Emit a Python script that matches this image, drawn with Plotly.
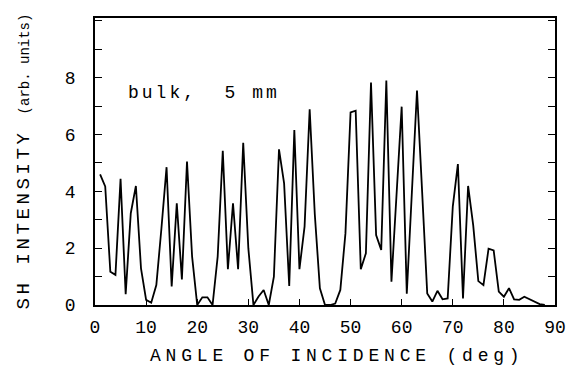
import plotly.graph_objects as go

angles = [1, 2, 3, 4, 5, 6, 7, 8, 9, 10, 11, 12, 13, 14, 15, 16, 17, 18, 19, 20,
          21, 22, 23, 24, 25, 26, 27, 28, 29, 30, 31, 32, 33, 34, 35, 36, 37, 38, 39, 40,
          41, 42, 43, 44, 45, 46, 47, 48, 49, 50, 51, 52, 53, 54, 55, 56, 57, 58, 59, 60,
          61, 62, 63, 64, 65, 66, 67, 68, 69, 70, 71, 72, 73, 74, 75, 76, 77, 78, 79, 80,
          81, 82, 83, 84, 85, 86, 87, 88]

sh_intensity = [4.60, 4.17, 1.17, 1.06, 4.44, 0.38, 3.23, 4.19, 1.29, 0.18,
                0.08, 0.70, 2.70, 4.85, 0.65, 3.58, 0.90, 5.05, 1.70, 0.00,
                0.27, 0.27, 0.00, 1.70, 5.43, 1.26, 3.58, 1.26, 5.71, 2.00,
                0.00, 0.30, 0.53, 0.00, 1.00, 5.48, 4.28, 0.67, 6.16, 1.26,
                2.76, 6.89, 3.20, 0.59, 0.00, 0.00, 0.05, 0.53, 2.52, 6.78,
                6.84, 1.26, 1.82, 7.83, 2.46, 1.94, 7.90, 0.82, 3.90, 6.98,
                0.40, 3.90, 7.55, 4.00, 0.41, 0.12, 0.50, 0.20, 0.23, 3.46,
                4.96, 0.23, 4.19, 2.80, 0.84, 0.70, 1.98, 1.92, 0.47, 0.29,
                0.59, 0.20, 0.18, 0.29, 0.20, 0.10, 0.03, 0.00]

x_tick_vals = [0, 10, 20, 30, 40, 50, 60, 70, 80, 90]
y_tick_vals = [0, 2, 4, 6, 8]

x_title = "ANGLE OF INCIDENCE (deg)"
y_title = "SH INTENSITY <span style='font-size:14px'>(arb. units)</span>"
label_text = "bulk,\u00a0 5 mm"

FONT = "Liberation Mono"

fig = go.Figure()
fig.add_trace(go.Scatter(x=angles, y=sh_intensity, mode="lines",
                         line=dict(color="black", width=1.8), showlegend=False))

fig.update_layout(
    width=578, height=372,
    margin=dict(l=95, r=15, t=18, b=67),
    paper_bgcolor="white", plot_bgcolor="white",
    font=dict(family=FONT, color="black", size=18),
    xaxis=dict(
        range=[0, 90], tickvals=x_tick_vals, ticks="inside", ticklen=6,
        tickwidth=1.3, tickcolor="black", showgrid=False, zeroline=False,
        showline=True, linecolor="black", linewidth=1.6, mirror=True,
        tickfont=dict(family=FONT, size=18), ticklabelstandoff=5,
    ),
    yaxis=dict(
        range=[0, 10.1], tickvals=y_tick_vals, ticks="inside", ticklen=7,
        tickwidth=1.3, tickcolor="black", showgrid=False, zeroline=False,
        showline=True, linecolor="black", linewidth=1.6, mirror="allticks",
        minor=dict(dtick=1, ticks="inside", ticklen=7, tickwidth=1.3, tickcolor="black",
                   showgrid=False),
        tickfont=dict(family=FONT, size=18), ticklabelstandoff=14,
        title=dict(text=y_title, font=dict(family=FONT, size=19), standoff=30),
    ),
    annotations=[
        dict(x=6.0, y=7.45, xref="x", yref="y", text=label_text,
             showarrow=False, xanchor="left", yanchor="middle", align="left",
             font=dict(family=FONT, size=18, color="black")),
        dict(x=0.116, y=-0.176, xref="paper", yref="paper", text=x_title,
             showarrow=False, xanchor="left", yanchor="middle", align="left",
             font=dict(family=FONT, size=18, color="black")),
    ],
)

post = """
var gd = document.getElementById('{plot_id}');
function spaceText(){
  gd.querySelectorAll('.ytitle').forEach(function(t){
    t.style.letterSpacing = '3.6px';
    t.querySelectorAll('tspan').forEach(function(s){
      if (s.style && s.style.fontSize) { s.style.letterSpacing = '0px'; }
    });
  });
  var ann = gd.querySelectorAll('.annotation-text');
  if (ann.length > 0) { ann[0].style.letterSpacing = '3px'; }
  if (ann.length > 1) { ann[1].style.letterSpacing = '4.8px'; }
}
spaceText();
"""

fig.write_html("out.html", post_script=post)
